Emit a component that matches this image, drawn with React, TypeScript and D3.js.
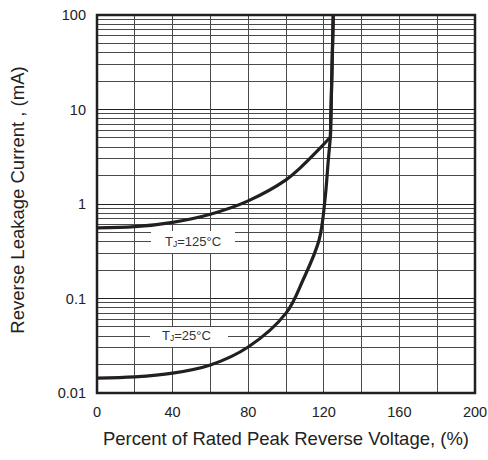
import React from "react";
import * as d3 from "d3";

const xTicks = [0, 40, 80, 120, 160, 200];
const xGrid = [20, 40, 60, 80, 100, 120, 140, 160, 180];
const yTicks = [0.01, 0.1, 1, 10, 100];
const yTickLabels = ["0.01", "0.1", "1", "10", "100"];

const x125 = [0, 20, 40, 60, 80, 100, 107.4, 118, 123.5, 125];
const y125 = [0.56, 0.575, 0.64, 0.78, 1.08, 1.8, 2.4, 3.9, 5.12, 100];

const x25 = [0, 20, 40, 60, 80, 100, 109, 117.5, 120.6, 122.4, 123.5, 125];
const y25 = [0.0144, 0.0148, 0.0162, 0.0198, 0.0307, 0.07, 0.157, 0.416, 1.1, 2.93, 5.12, 100];

const W = 488, H = 460;
const L = 97, R = 475, T = 15, B = 393;
const FONT = "'Liberation Sans', Arial, sans-serif";

export default function App() {
  const x = d3.scaleLinear().domain([0, 200]).range([L, R]);
  const y = d3.scaleLog().domain([0.01, 100]).range([B, T]);

  const minor: number[] = [];
  for (let d = 0.01; d < 100; d *= 10) {
    for (let k = 2; k <= 9; k++) minor.push(+(d * k).toPrecision(3));
  }
  const majors = [0.1, 1, 10];

  const line = d3
    .line<[number, number]>()
    .x((d) => x(d[0]))
    .y((d) => y(d[1]))
    .curve(d3.curveCatmullRom.alpha(0.5));

  const makePath = (xs: number[], ys: number[]) => {
    const pts = xs.map((v, i) => [v, ys[i]] as [number, number]);
    const last = pts[pts.length - 1];
    return (line(pts.slice(0, -1)) || "") + `L${x(last[0])},${y(last[1])}`;
  };

  const p125 = makePath(x125, y125);
  const p25 = makePath(x25, y25);

  const gridColor = "#4a4a4a";

  return (
    <svg width={W} height={H} style={{ position: "absolute", left: 0, top: 0, background: "#fff" }} fontFamily={FONT}>
      <rect x={0} y={0} width={W} height={H} fill="#fff" />
      <g shapeRendering="crispEdges">
        {minor.map((v) => (
          <line key={"m" + v} x1={L} x2={R} y1={y(v)} y2={y(v)} stroke={gridColor} strokeWidth={1} />
        ))}
        {majors.map((v) => (
          <line key={"M" + v} x1={L} x2={R} y1={y(v)} y2={y(v)} stroke="#222" strokeWidth={1} />
        ))}
        {xGrid.map((v) => (
          <line key={"v" + v} x1={x(v)} x2={x(v)} y1={T} y2={B} stroke={gridColor} strokeWidth={1} />
        ))}
      </g>
      <rect x={151} y={231} width={84} height={22} fill="#fff" />
      <rect x={150} y={327} width={78} height={20} fill="#fff" />
      <text x={165} y={246} fontSize={13} fill="#333">
        T<tspan fontSize={8.5} dy={1}>J</tspan>
        <tspan dy={-1}>=125°C</tspan>
      </text>
      <text x={162} y={339.5} fontSize={13} fill="#333">
        T<tspan fontSize={8.5} dy={1}>J</tspan>
        <tspan dy={-1}>=25°C</tspan>
      </text>
      <path d={p125} fill="none" stroke="#231f20" strokeWidth={3.2} strokeLinejoin="round" />
      <path d={p25} fill="none" stroke="#231f20" strokeWidth={3.2} strokeLinejoin="round" />
      <rect x={L} y={T} width={R - L} height={B - T} fill="none" stroke="#231f20" strokeWidth={2.5} />
      {yTicks.map((v, i) => (
        <text key={"yl" + v} x={86} y={y(v)} dy="0.35em" textAnchor="end" fontSize={14.5} fill="#222">
          {yTickLabels[i]}
        </text>
      ))}
      {xTicks.map((v) => (
        <text key={"xl" + v} x={x(v)} y={417} textAnchor="middle" fontSize={14.5} fill="#222">
          {v}
        </text>
      ))}
      <text x={286} y={445} textAnchor="middle" fontSize={18.5} fill="#222">
        Percent of Rated Peak Reverse Voltage, (%)
      </text>
      <text transform={`translate(24,${200}) rotate(-90)`} textAnchor="middle" fontSize={18.5} fill="#222">
        Reverse Leakage Current , (mA)
      </text>
    </svg>
  );
}
